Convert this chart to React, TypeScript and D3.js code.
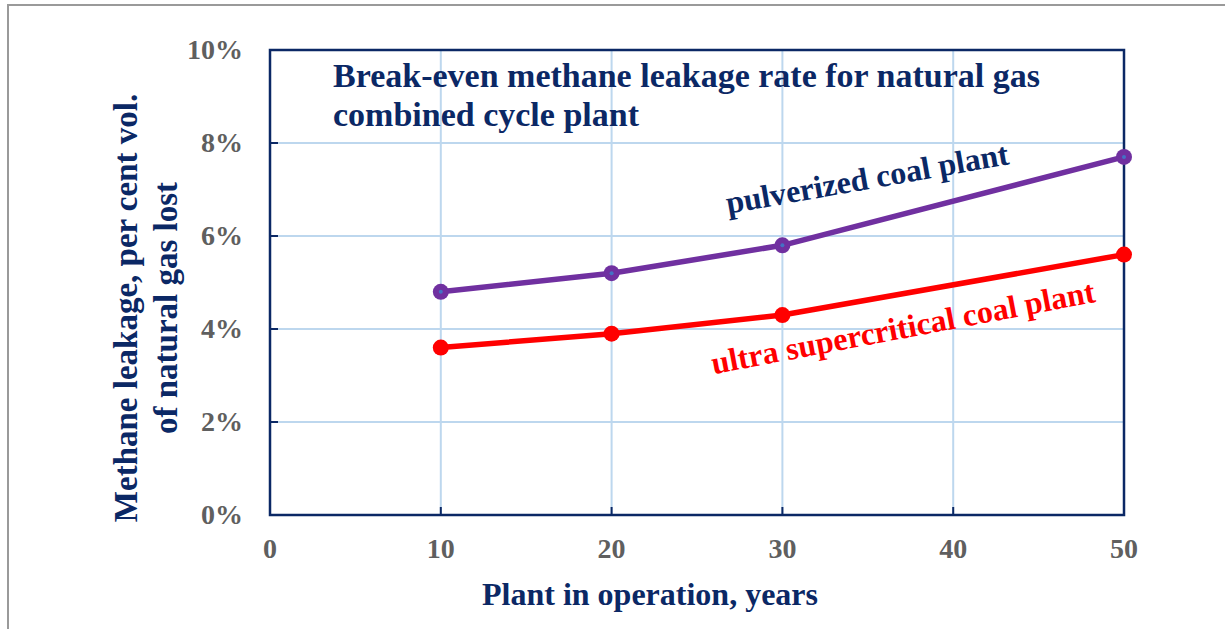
import * as React from 'react';
import * as d3 from 'd3';

const years = [10, 20, 30, 50];
const pulverized = [4.8, 5.2, 5.8, 7.7];
const ultraSupercritical = [3.6, 3.9, 4.3, 5.6];
const xTicks = [0, 10, 20, 30, 40, 50];
const yTicks = [0, 2, 4, 6, 8, 10];

const NAVY = '#0b2865';
const GREY = '#5f5f5f';
const GRID = '#bdd7ee';
const FONT = '"Liberation Serif", "Times New Roman", serif';

const W = 1225, H = 629;
const left = 270, right = 1124, top = 50, bottom = 515;

const App = () => {
	const ref = React.useRef<SVGSVGElement>(null);

	React.useEffect(() => {
		const svg = d3.select(ref.current);
		svg.selectAll('*').remove();

		const x = d3.scaleLinear().domain([0, 50]).range([left, right]);
		const y = d3.scaleLinear().domain([0, 10]).range([bottom, top]);

		// outer frame (top and left only)
		svg.append('path')
			.attr('d', `M8,${H} L8,5 L${W},5`)
			.attr('fill', 'none')
			.attr('stroke', '#9a9a9a')
			.attr('stroke-width', 2);

		const g = svg.append('g');

		// grid
		g.selectAll('.vgrid')
			.data(xTicks.slice(1, -1))
			.enter().append('line')
			.attr('x1', d => x(d)).attr('x2', d => x(d))
			.attr('y1', top).attr('y2', bottom)
			.attr('stroke', GRID).attr('stroke-width', 2);
		g.selectAll('.hgrid')
			.data(yTicks.slice(1, -1))
			.enter().append('line')
			.attr('x1', left).attr('x2', right)
			.attr('y1', d => y(d)).attr('y2', d => y(d))
			.attr('stroke', GRID).attr('stroke-width', 2);

		// small inner ticks
		g.selectAll('.xtick')
			.data(xTicks.slice(1, -1))
			.enter().append('line')
			.attr('x1', d => x(d)).attr('x2', d => x(d))
			.attr('y1', bottom).attr('y2', bottom - 8)
			.attr('stroke', NAVY).attr('stroke-width', 2);
		g.selectAll('.ytick')
			.data(yTicks.slice(1, -1))
			.enter().append('line')
			.attr('x1', left).attr('x2', left + 8)
			.attr('y1', d => y(d)).attr('y2', d => y(d))
			.attr('stroke', NAVY).attr('stroke-width', 2);

		// plot box
		g.append('rect')
			.attr('x', left).attr('y', top)
			.attr('width', right - left).attr('height', bottom - top)
			.attr('fill', 'none')
			.attr('stroke', NAVY).attr('stroke-width', 2.5);

		// tick labels
		g.selectAll('.xlab')
			.data(xTicks)
			.enter().append('text')
			.attr('x', d => x(d)).attr('y', 558)
			.attr('text-anchor', 'middle')
			.attr('font-family', FONT).attr('font-weight', 'bold')
			.attr('font-size', 28).attr('fill', GREY)
			.text(d => d);
		g.selectAll('.ylab')
			.data(yTicks)
			.enter().append('text')
			.attr('x', 243).attr('y', d => y(d) + 9)
			.attr('text-anchor', 'end')
			.attr('font-family', FONT).attr('font-weight', 'bold')
			.attr('font-size', 28).attr('fill', GREY)
			.text(d => d + '%');

		// axis titles
		g.append('text')
			.attr('x', 650).attr('y', 605)
			.attr('text-anchor', 'middle')
			.attr('font-family', FONT).attr('font-weight', 'bold')
			.attr('font-size', 32).attr('fill', NAVY)
			.text('Plant in operation, years');
		const yt = g.append('text')
			.attr('transform', 'translate(0,308) rotate(-90)')
			.attr('text-anchor', 'middle')
			.attr('font-family', FONT).attr('font-weight', 'bold')
			.attr('font-size', 33).attr('fill', NAVY);
		yt.append('tspan').attr('x', 0).attr('y', 137).text('Methane leakage, per cent vol.');
		yt.append('tspan').attr('x', 0).attr('y', 177).text('of natural gas lost');

		// chart title
		const tt = g.append('text')
			.attr('font-family', FONT).attr('font-weight', 'bold')
			.attr('font-size', 34).attr('fill', NAVY);
		tt.append('tspan').attr('x', 333).attr('y', 87).text('Break-even methane leakage rate for natural gas');
		tt.append('tspan').attr('x', 333).attr('y', 126).text('combined cycle plant');

		const line = d3.line<number>()
			.x((d, i) => x(years[i]))
			.y(d => y(d));

		const series = [
			{values: pulverized, color: '#7030a0', dot: '#4472c4'},
			{values: ultraSupercritical, color: '#ff0000', dot: null},
		];

		series.forEach(s => {
			g.append('path')
				.attr('d', line(s.values))
				.attr('fill', 'none')
				.attr('stroke', s.color)
				.attr('stroke-width', 5.5)
				.attr('stroke-linejoin', 'round');
			g.selectAll(null)
				.data(s.values)
				.enter().append('circle')
				.attr('cx', (d, i) => x(years[i]))
				.attr('cy', d => y(d))
				.attr('r', 8)
				.attr('fill', s.color);
			if (s.dot) {
				g.selectAll(null)
					.data(s.values)
					.enter().append('circle')
					.attr('cx', (d, i) => x(years[i]))
					.attr('cy', d => y(d))
					.attr('r', 2)
					.attr('fill', s.dot);
			}
		});

		// series labels
		g.append('text')
			.attr('transform', 'translate(869,189) rotate(-10)')
			.attr('text-anchor', 'middle')
			.attr('font-family', FONT).attr('font-weight', 'bold')
			.attr('font-size', 32).attr('fill', NAVY)
			.text('pulverized coal plant');
		g.append('text')
			.attr('transform', 'translate(905,338) rotate(-10.7)')
			.attr('text-anchor', 'middle')
			.attr('font-family', FONT).attr('font-weight', 'bold')
			.attr('font-size', 32).attr('fill', '#ff0000')
			.text('ultra supercritical coal plant');
	}, []);

	return (
		<svg
			ref={ref}
			width={W}
			height={H}
			style={{position: 'absolute', left: 0, top: 0, background: '#fff'}}
		/>
	);
};

export default App;
